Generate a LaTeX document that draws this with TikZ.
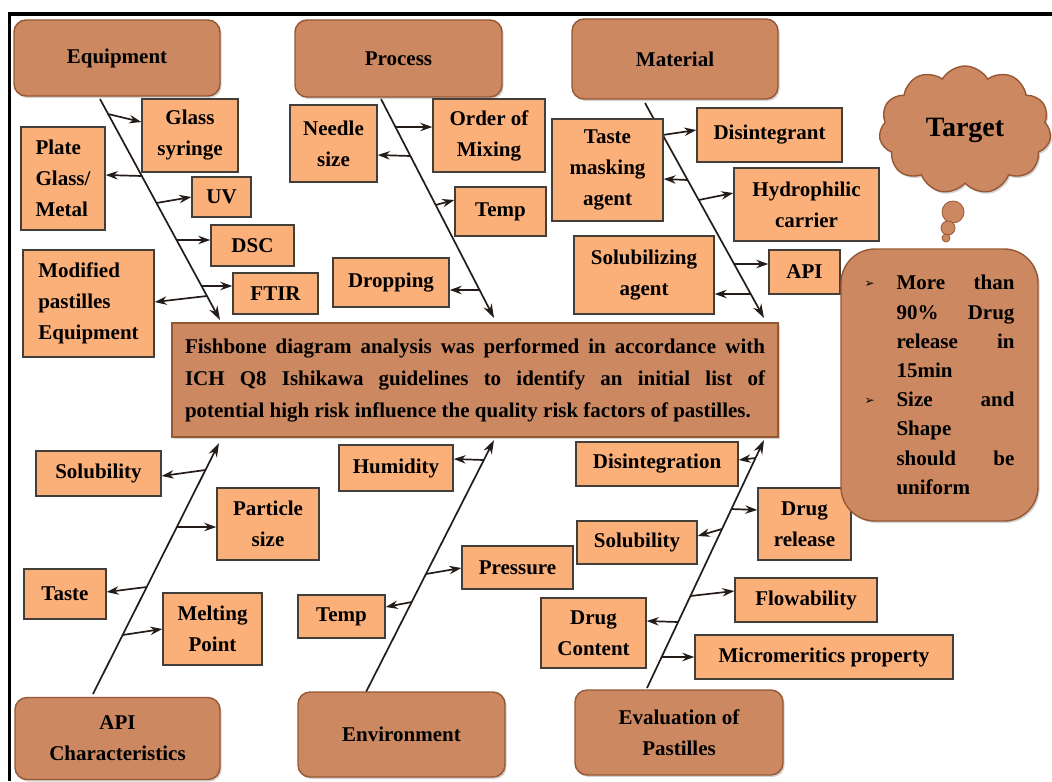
\documentclass[tikz,border=0pt]{standalone}
\usepackage{fontspec}
\setmainfont{Liberation Serif}
\newfontfamily\symfont{DejaVu Sans}
\usepackage{tikz}
\usetikzlibrary{arrows.meta,shapes.symbols,shadows}

\definecolor{leaffill}{RGB}{251,175,121}
\definecolor{catfill}{RGB}{204,136,97}
\definecolor{catdark}{RGB}{150,88,52}
\definecolor{ink}{RGB}{35,28,24}
\pgfdeclarelayer{bg}
\pgfsetlayers{bg,main}

\begin{document}
\begin{tikzpicture}[x=0.5pt,y=-0.5pt,
	size/.style 2 args={minimum width=#1*0.5pt,minimum height=#2*0.5pt},
	leaf/.style={draw=ink!85,line width=0.7pt,fill=leaffill,inner sep=2pt,align=center,font=\fontsize{10.5}{15.5}\selectfont\bfseries},
	cat/.style={rounded corners=6pt,draw=catdark,line width=0.7pt,fill=catfill,drop shadow={shadow xshift=0.8pt,shadow yshift=-1pt,opacity=0.35},align=center,font=\fontsize{10.5}{15.5}\selectfont\bfseries},
	spine/.style={ink,line width=0.85pt,-{Stealth[length=7pt,width=4.6pt]}},
	branch/.style={ink,line width=0.85pt,-{Stealth[length=6pt,width=4.2pt]}}]
	\useasboundingbox (0,0) rectangle (1052,781);
	\draw[line width=1.6pt] (9.5,781) -- (9.5,14) -- (1052,14);
	\foreach \n/\x/\y/\w/\h/\t in {equ/117/58/206/76/Equipment,pro/398.5/58.5/207/77/Process,mat/675/59/206/80/Material,apic/117.5/738.5/205/82/{API\\Characteristics},env/401.5/734.5/207/85/Environment,eva/679/732.5/208/85/{Evaluation of\\Pastilles}} \node[cat,size={\w}{\h}] (\n) at (\x,\y) {\t};
	\foreach \n/\x/\y/\w/\h/\t in {gs/190/135.5/96/73/{Glass\\syringe},uv/221.5/197/59/40/UV,dsc/252.5/245.5/83/41/DSC,ftir/275.5/293.5/85/41/FTIR,ns/333.5/143.5/87/77/{Needle\\size},om/489/135.5/112/73/{Order of\\Mixing},tp/500.5/211.5/91/49/Temp,dr/391/282.5/116/49/Dropping,tma/607.5/170/111/102/{Taste\\masking\\agent},dis/769.5/135/145/54/Disintegrant,hc/806.5/204.5/145/73/{Hydrophilic\\carrier},api/804.5/272/71/44/API,sa/644/275/140/78/{Solubilizing\\agent},sol/98.5/473.5/125/45/Solubility,ps/268/524/102/72/{Particle\\size},ta/65/594/82/50/Taste,mp/212.5/629/99/72/{Melting\\Point},hu/396/468/114/46/Humidity,pr/517.5/567.5/111/43/Pressure,te/341.5/616.5/87/43/Temp,di/657/464/162/44/Disintegration,drl/804.5/524/93/72/{Drug\\release},so/637/542.5/120/43/Solubility,fl/806/600/142/44/Flowability,dc/593.5/633/105/70/{Drug\\Content},mm/824/657/258/44/{Micromeritics property}} \node[leaf,size={\w}{\h}] (\n) at (\x,\y) {\t};
	\node[leaf,size={84}{103},align=left] (pg) at (63,178.5) {Plate\\Glass/\\Metal};
	\node[leaf,size={131}{107},align=left] (mpe) at (88.5,303.5) {Modified\\pastilles\\Equipment};
	\node[cat,rounded corners=0pt,size={606}{114},text width=290pt,align=justify,font=\fontsize{10.5}{16}\selectfont\bfseries] (fb) at (475,380) {\parfillskip=0pt Fishbone diagram analysis was performed in accordance with\linebreak ICH Q8 Ishikawa guidelines to identify an initial list of\linebreak potential high risk influence the quality risk factors of pastilles.};
	\node[cat,rounded corners=17pt,size={197}{272},text width=75pt,align=justify,font=\fontsize{10.5}{14.6}\selectfont\bfseries] (goal) at (939.5,385) {\noindent\makebox[16pt][l]{\raisebox{1pt}{\symfont\fontsize{6}{6}\selectfont ➢}}\hangindent=16pt\hangafter=1 More than\linebreak 90\% Drug\linebreak release in\linebreak 15min\par\noindent\makebox[16pt][l]{\raisebox{1pt}{\symfont\fontsize{6}{6}\selectfont ➢}}\hangindent=16pt\hangafter=1 Size and\linebreak Shape\linebreak should be\linebreak uniform\par};
	\node[cloud,cloud puffs=11,cloud puff arc=120,aspect=1.3,fill=catfill,draw=catdark,line width=0.7pt,drop shadow={shadow xshift=0.8pt,shadow yshift=-1pt,opacity=0.35},size={172}{128},font=\fontsize{14}{14}\selectfont\bfseries] (tgt) at (965,130) {Target};
	\foreach \n/\x/\y/\r in {tb1/953/212/11,tb2/948/228/7,tb3/946/238/4} \node[circle,fill=catfill,draw=catdark,line width=0.4pt,inner sep=0pt,minimum size=\r*1pt] (\n) at (\x,\y) {};
	\begin{pgfonlayer}{bg}
	\foreach \a/\ax/\ay/\b/\bx/\by in {equs/100/99/equt/220/320,pros/381/99/prot/494/318,mats/645/103/matt/764/318,apis/93/694/apit/219/443,envs/366/692/envt/494/440,evas/647/688/evat/764/440} {\coordinate (\a) at (\ax,\ay); \coordinate (\b) at (\bx,\by); \draw[spine] (\a) -- (\b);}
	\foreach \c/\x/\y/\n/\s/\d in {e1/108/114/gs/west/8,e2/142/176/pg/east/-1,e3/156.5/203/uv/west/-6,e4/176.6/240/dsc/west/0,e5/201.5/286/ftir/west/0,e6/207/296/mpe/east/6,p1/395.4/127/om/west/0,p2/410.4/156/ns/east/-1,p3/435.7/205/tp/west/-5,p4/479.6/290/dr/east/0,m1/662.7/135/dis/west/-5,m2/687.6/180/tma/east/-1,m3/698.7/200/hc/west/-7,m4/734.1/264/api/west/0,m5/750.7/294/sa/east/0,a1/205.4/470/sol/east/6,a2/176.8/527/ps/west/0,a3/146.7/587/ta/east/5,a4/122.6/635/mp/west/-6,v1/483.8/460/hu/east/-1,v2/425.9/574/pr/west/-6,v3/411.7/602/te/east/5,q1/755.5/458/di/east/2,q2/731.4/509/drl/west/1,q3/722/529/so/east/7,q4/690.4/596/fl/west/-5,q5/678.1/622/dc/east/-1,q6/661.6/657/mm/west/0} {\coordinate (\c) at (\x,\y); \draw[branch] (\c) -- ([yshift=\d*-0.5pt]\c -| \n.\s);}
	\end{pgfonlayer}
\end{tikzpicture}
\end{document}
